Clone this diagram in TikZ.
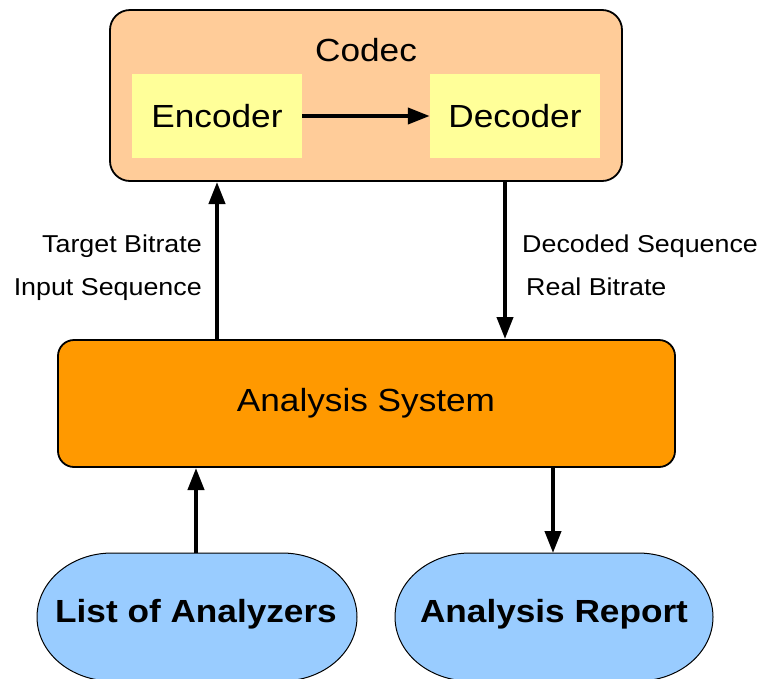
\documentclass[tikz,border=0pt]{standalone}
\usepackage{fontspec}
\setmainfont[FakeStretch=1.1]{Liberation Sans}
\usetikzlibrary{arrows.meta}
\definecolor{peach}{HTML}{FFCC99}
\definecolor{paleyellow}{HTML}{FFFF99}
\definecolor{orangebox}{HTML}{FF9900}
\definecolor{lightblue}{HTML}{99CCFF}
\tikzset{
  conn/.style={line width=4pt,-{Triangle[length=22pt,width=16pt]}},
  inner/.style={fill=paleyellow,minimum width=170pt,minimum height=84pt,font=\fontsize{32}{38}\selectfont,inner sep=0pt},
  lbl/.style={font=\fontsize{24.4}{29}\selectfont,inner sep=0pt},
  big/.style={font=\fontsize{32}{38}\selectfont,inner sep=0pt},
}
\begin{document}
\begin{tikzpicture}[x=1pt,y=-1pt]
\useasboundingbox (0,0) rectangle (762,678);
\begin{scope}
\clip (0,0) rectangle (762,678);
% Codec
\draw[fill=peach,line width=1.8pt,rounded corners=20pt] (110,10) rectangle (622,181);
\node[big] (codec) at (366,50) {Codec};
\node[inner] (enc) at (217,116) {Encoder};
\node[inner] (dec) at (515,116) {Decoder};
\draw[conn] (enc.east) -- (dec.west);
\coordinate (codecbot1) at (217,182);
\coordinate (codecbot2) at (505,181);
% Analysis system
\draw[fill=orangebox,line width=1.8pt,rounded corners=16pt] (58,340) rectangle (675,467);
\node[big] (ana) at (366,403) {Analysis System};
\coordinate (anatop1) at (217,340);
\coordinate (anatop2) at (505,339);
\coordinate (anabot1) at (196,468);
\coordinate (anabot2) at (553,467);
\draw[conn] (anatop1) -- (codecbot1);
\draw[conn] (codecbot2) -- (anatop2);
% labels
\node[lbl,anchor=base east] (tb) at (202,252) {Target Bitrate};
\node[lbl,anchor=base east] (is) at (202,295) {Input Sequence};
\node[lbl,anchor=base west] (ds) at (522,252) {Decoded Sequence};
\node[lbl,anchor=base west] (rb) at (526,295) {Real Bitrate};
% stadiums
\draw[fill=lightblue,line width=1pt] (112,553) -- (282,553)
  arc[start angle=-90,end angle=90,x radius=75,y radius=64] -- (112,681)
  arc[start angle=90,end angle=270,x radius=75,y radius=64] -- cycle;
\draw[fill=lightblue,line width=1pt] (470,553) -- (638,553)
  arc[start angle=-90,end angle=90,x radius=75,y radius=64] -- (470,681)
  arc[start angle=90,end angle=270,x radius=75,y radius=64] -- cycle;
\node[big,font=\fontsize{32}{38}\selectfont\bfseries] (loa) at (196,614) {List of Analyzers};
\node[big,font=\fontsize{32}{38}\selectfont\bfseries] (rep) at (554,614) {Analysis Report};
\coordinate (loatop) at (196,553);
\coordinate (reptop) at (553,553);
\draw[conn] (loatop) -- (anabot1);
\draw[conn] (anabot2) -- (reptop);
\end{scope}
\end{tikzpicture}
\end{document}
